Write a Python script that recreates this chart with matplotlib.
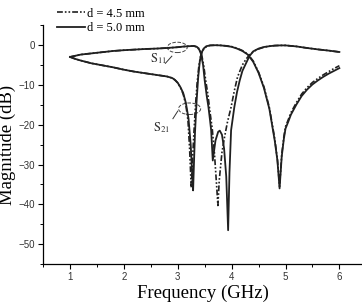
import matplotlib
matplotlib.use('Agg')
import matplotlib.pyplot as plt
from matplotlib.patches import Ellipse
from matplotlib.ticker import MultipleLocator

# frequency (GHz) / magnitude (dB)
f_s21_50 = [1.0, 1.1, 1.2, 1.4, 1.6, 1.8, 2.0, 2.2, 2.4, 2.6, 2.8, 2.9, 2.95, 3.0, 3.05,
            3.1, 3.15, 3.2, 3.24, 3.27, 3.285, 3.3, 3.32, 3.35, 3.38, 3.41, 3.44, 3.48,
            3.53, 3.6, 3.7, 3.8, 3.9, 4.0, 4.1, 4.2, 4.3, 4.4, 4.5, 4.6, 4.7, 4.8, 4.85,
            4.89, 4.93, 4.97, 5.0, 5.05, 5.1, 5.2, 5.3, 5.4, 5.5, 5.6, 5.7, 5.8, 5.9, 6.0]
s21_50 = [-3.0, -3.5, -3.9, -4.6, -5.1, -5.6, -6.2, -6.7, -7.1, -7.5, -7.9, -8.3, -8.8, -9.5, -10.6,
          -12.0, -14.5, -18.5, -25.0, -33.0, -36.5, -30.0, -22.0, -14.0, -8.0, -4.0, -2.0, -0.9,
          -0.3, -0.1, -0.05, -0.1, -0.25, -0.45, -0.9, -1.5, -2.4, -4.2, -7.0, -10.8, -16.0, -24.0, -29.0,
          -36.0, -28.0, -23.5, -21.0, -19.3, -17.5, -15.0, -12.8, -11.2, -9.9, -8.9, -8.0, -7.2, -6.5, -5.8]

f_s21_45 = [1.0, 1.1, 1.2, 1.4, 1.6, 1.8, 2.0, 2.2, 2.4, 2.6, 2.8, 2.9, 2.95, 3.0, 3.05,
            3.1, 3.15, 3.19, 3.22, 3.25, 3.27, 3.3, 3.33, 3.36, 3.39, 3.42, 3.46, 3.5,
            3.55, 3.6, 3.7, 3.8, 3.9, 4.0, 4.1, 4.2, 4.3, 4.4, 4.5, 4.6, 4.7, 4.8, 4.85,
            4.89, 4.93, 4.97, 5.0, 5.05, 5.1, 5.2, 5.3, 5.4, 5.5, 5.6, 5.7, 5.8, 5.9, 6.0]
s21_45 = [-3.0, -3.5, -3.9, -4.6, -5.1, -5.6, -6.2, -6.7, -7.1, -7.5, -7.9, -8.3, -8.8, -9.5, -10.7,
          -12.3, -15.0, -19.0, -26.0, -35.8, -30.0, -22.0, -15.0, -9.5, -5.5, -3.0, -1.5, -0.7,
          -0.3, -0.1, -0.05, -0.1, -0.2, -0.4, -0.8, -1.4, -2.3, -4.0, -6.8, -10.5, -15.7, -23.5, -28.8,
          -35.5, -27.5, -23.0, -20.5, -18.8, -17.0, -14.5, -12.3, -10.7, -9.4, -8.4, -7.5, -6.7, -5.9, -5.2]

f_s11_50 = [1.0, 1.1, 1.2, 1.4, 1.6, 1.8, 2.0, 2.2, 2.4, 2.6, 2.8, 3.0, 3.1, 3.2, 3.3,
            3.36, 3.4, 3.43, 3.47, 3.5, 3.54, 3.57, 3.6, 3.62, 3.65, 3.7, 3.75, 3.78,
            3.82, 3.86, 3.9, 3.935, 3.96, 3.99, 4.05, 4.1, 4.15, 4.2, 4.27, 4.33, 4.4,
            4.5, 4.6, 4.7, 4.8, 4.9, 5.0, 5.2, 5.4, 5.6, 5.8, 6.0]
s11_50 = [-3.0, -2.7, -2.4, -2.1, -1.8, -1.5, -1.3, -1.15, -1.0, -0.9, -0.75, -0.55, -0.4, -0.3, -0.25,
          -0.5, -1.2, -2.2, -5.0, -8.9, -13.0, -15.6, -19.0, -21.4, -29.0, -24.0, -21.8, -21.5,
          -22.5, -26.0, -33.0, -46.5, -32.0, -21.4, -15.6, -11.8, -8.9, -6.5, -4.5, -2.8, -1.6,
          -0.9, -0.5, -0.3, -0.15, -0.1, -0.1, -0.35, -0.75, -1.1, -1.4, -1.75]

f_s11_45 = [1.0, 1.1, 1.2, 1.4, 1.6, 1.8, 2.0, 2.2, 2.4, 2.6, 2.8, 3.0, 3.1, 3.2, 3.3,
            3.37, 3.41, 3.44, 3.48, 3.52, 3.56, 3.6, 3.64, 3.68, 3.72, 3.745, 3.77, 3.82,
            3.87, 3.92, 3.99, 4.05, 4.11, 4.2, 4.27, 4.35, 4.45, 4.5, 4.6, 4.7, 4.8,
            4.9, 5.0, 5.2, 5.4, 5.6, 5.8, 6.0]
s11_45 = [-3.0, -2.7, -2.4, -2.1, -1.8, -1.5, -1.3, -1.15, -1.0, -0.9, -0.75, -0.55, -0.4, -0.3, -0.25,
          -0.5, -1.2, -2.2, -5.0, -9.0, -12.5, -17.0, -21.0, -27.0, -35.0, -40.3, -34.0, -27.0,
          -23.0, -19.5, -15.6, -11.5, -8.0, -5.0, -3.5, -2.2, -1.3, -1.0, -0.55, -0.3, -0.15,
          -0.1, -0.1, -0.35, -0.75, -1.1, -1.4, -1.75]

legend_labels = ['d = 4.5 mm', 'd = 5.0 mm']

plt.rcParams['mathtext.fontset'] = 'stix'
serif = 'Liberation Serif'
sans = 'Liberation Sans'

fig = plt.figure(figsize=(3.62, 3.06), dpi=100)
ax = fig.add_axes([0.119, 0.137, 0.881, 0.781])

dashdot = (0, (3.5, 1.2, 1, 1.2, 1, 1.2))
col = '#202020'
l45, = ax.plot(f_s21_45, s21_45, color=col, lw=1.2, ls=dashdot)
ax.plot(f_s11_45, s11_45, color=col, lw=1.2, ls=dashdot)
l50, = ax.plot(f_s21_50, s21_50, color=col, lw=1.3)
ax.plot(f_s11_50, s11_50, color=col, lw=1.3)

ax.set_xlim(0.5, 6.42)
ax.set_ylim(-55, 5)
ax.xaxis.set_major_locator(MultipleLocator(1))
ax.xaxis.set_minor_locator(MultipleLocator(0.5))
ax.yaxis.set_major_locator(MultipleLocator(10))
ax.yaxis.set_minor_locator(MultipleLocator(5))
ax.spines['top'].set_visible(False)
ax.spines['right'].set_visible(False)
for s in ('left', 'bottom'):
    ax.spines[s].set_linewidth(0.9)
ax.tick_params(which='major', direction='out', length=3.5, width=0.8, labelsize=7, pad=2)
ax.tick_params(which='minor', direction='out', length=2, width=0.7)
ax.set_xticks([1, 2, 3, 4, 5, 6])
ax.set_yticks([0, -10, -20, -30, -40, -50])
for t in ax.get_xticklabels() + ax.get_yticklabels():
    t.set_fontfamily(sans)
    t.set_color('#333333')

ax.set_xlabel('Frequency (GHz)', fontfamily=serif, fontsize=13.5, labelpad=2)
ax.set_ylabel('Magnitude (dB)', fontfamily=serif, fontsize=13.5, labelpad=2)

# ellipses marking S11 and S21
ax.add_patch(Ellipse((2.99, -0.6), 0.37, 2.6, fill=False, ls='--', lw=0.7, color='#444444'))
ax.add_patch(Ellipse((3.22, -16.0), 0.41, 2.9, fill=False, ls='--', lw=0.7, color='#444444'))
ax.text(2.64, -3.4, r'$\mathrm{S_{11}}$', fontsize=9, ha='center', va='center', color='#333333')
ax.plot([2.77, 2.89], [-4.6, -2.8], color='#333333', lw=0.7)
ax.text(2.70, -20.8, r'$\mathrm{S_{21}}$', fontsize=9, ha='center', va='center', color='#333333')
ax.plot([2.91, 3.0], [-18.5, -16.6], color='#333333', lw=0.7)

fig.legend([l45, l50], legend_labels, loc='upper left', bbox_to_anchor=(0.125, 1.012),
           frameon=False, handlelength=2.3, handletextpad=0.15, labelspacing=0.2,
           prop={'family': serif, 'size': 9})

fig.savefig('out.png', dpi=100)
